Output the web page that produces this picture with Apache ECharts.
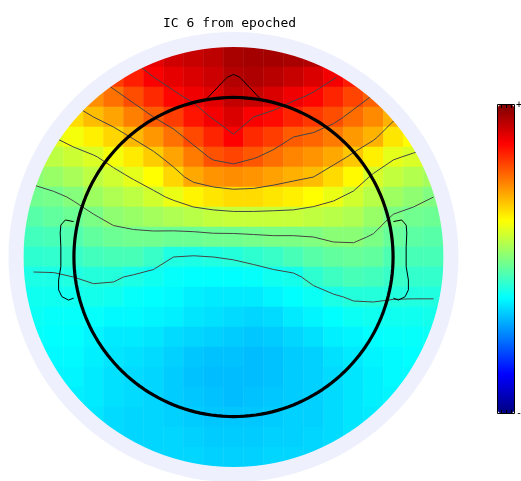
<!DOCTYPE html>
<html><head><meta charset="utf-8">
<script src="https://cdn.jsdelivr.net/npm/echarts@6/dist/echarts.min.js"></script>
<style>html,body{margin:0;padding:0;background:#fff}#c{width:521px;height:481px}</style>
</head><body><div id="c"></div>
<script>
// ---------------- data ----------------
const titleText = 'IC 6 from epoched';
// interpolated scalp map values, rows top -> bottom, 21 x 21 grid (null = outside the map)
const mapRows = [
 [null,null,null,null,null,0.78,0.80,0.84,0.86,0.88,0.92,0.93,0.93,0.92,0.90,0.86,null,null,null,null,null],
 [null,null,null,0.56,0.63,0.69,0.76,0.80,0.82,0.85,0.90,0.91,0.89,0.86,0.82,0.77,0.70,0.62,null,null,null],
 [null,null,0.42,0.47,0.53,0.60,0.67,0.74,0.78,0.81,0.87,0.86,0.82,0.78,0.74,0.68,0.62,0.56,0.46,null,null],
 [null,0.28,0.32,0.38,0.43,0.50,0.57,0.63,0.71,0.77,0.82,0.76,0.73,0.68,0.64,0.60,0.54,0.48,0.40,0.33,null],
 [0.16,0.19,0.23,0.28,0.33,0.39,0.455,0.53,0.61,0.68,0.75,0.67,0.63,0.57,0.55,0.51,0.45,0.40,0.30,0.25,0.23],
 [0.09,0.12,0.15,0.18,0.23,0.29,0.35,0.43,0.51,0.59,0.62,0.58,0.535,0.49,0.46,0.42,0.36,0.28,0.20,0.175,0.15],
 [0.02,0.05,0.08,0.12,0.155,0.20,0.25,0.33,0.42,0.46,0.475,0.46,0.435,0.405,0.38,0.32,0.26,0.17,0.13,0.10,0.07],
 [-0.03,-0.02,0.01,0.06,0.09,0.12,0.16,0.21,0.27,0.30,0.32,0.32,0.30,0.28,0.25,0.21,0.16,0.11,0.06,0.03,0.00],
 [-0.08,-0.06,-0.04,-0.01,0.03,0.05,0.07,0.09,0.11,0.13,0.14,0.14,0.14,0.14,0.125,0.11,0.09,0.05,-0.01,-0.03,-0.04],
 [-0.12,-0.11,-0.09,-0.06,-0.04,-0.03,-0.03,-0.04,-0.04,-0.03,-0.03,-0.02,-0.01,-0.01,0.00,0.02,0.02,-0.01,-0.05,-0.07,-0.08],
 [-0.16,-0.155,-0.14,-0.12,-0.11,-0.11,-0.14,-0.19,-0.20,-0.19,-0.18,-0.16,-0.14,-0.11,-0.08,-0.06,-0.05,-0.06,-0.10,-0.11,-0.11],
 [-0.20,-0.20,-0.19,-0.18,-0.18,-0.20,-0.22,-0.24,-0.25,-0.25,-0.25,-0.24,-0.22,-0.21,-0.16,-0.13,-0.11,-0.12,-0.14,-0.15,-0.15],
 [-0.22,-0.22,-0.22,-0.21,-0.22,-0.24,-0.25,-0.26,-0.28,-0.29,-0.29,-0.29,-0.27,-0.25,-0.23,-0.20,-0.18,-0.18,-0.186,-0.187,-0.188],
 [-0.23,-0.24,-0.24,-0.24,-0.26,-0.26,-0.27,-0.28,-0.30,-0.31,-0.32,-0.33,-0.32,-0.29,-0.27,-0.25,-0.23,-0.22,-0.22,-0.22,-0.21],
 [-0.24,-0.25,-0.25,-0.27,-0.29,-0.29,-0.30,-0.32,-0.33,-0.34,-0.35,-0.36,-0.35,-0.33,-0.31,-0.28,-0.27,-0.25,-0.24,-0.24,-0.23],
 [-0.25,-0.26,-0.26,-0.28,-0.30,-0.31,-0.32,-0.34,-0.36,-0.37,-0.37,-0.38,-0.37,-0.35,-0.34,-0.31,-0.29,-0.27,-0.26,-0.25,-0.24],
 [-0.26,-0.27,-0.27,-0.29,-0.31,-0.32,-0.33,-0.35,-0.37,-0.38,-0.38,-0.38,-0.37,-0.35,-0.34,-0.32,-0.30,-0.28,-0.26,-0.26,-0.25],
 [null,-0.28,-0.28,-0.29,-0.31,-0.32,-0.33,-0.35,-0.36,-0.37,-0.38,-0.37,-0.36,-0.35,-0.34,-0.32,-0.30,-0.28,-0.27,-0.26,null],
 [null,null,-0.28,-0.30,-0.32,-0.33,-0.33,-0.34,-0.35,-0.36,-0.36,-0.36,-0.35,-0.34,-0.34,-0.32,-0.30,-0.29,-0.27,null,null],
 [null,null,null,-0.30,-0.32,-0.33,-0.33,-0.33,-0.34,-0.35,-0.35,-0.35,-0.34,-0.34,-0.33,-0.32,-0.30,-0.29,null,null,null],
 [null,null,null,null,null,-0.33,-0.33,-0.33,-0.33,-0.34,-0.34,-0.34,-0.33,-0.33,-0.33,-0.32,null,null,null,null,null]
];
const contourLevels = [-0.19, 0, 0.19, 0.38, 0.57, 0.76];
const colorLimits = [-1, 1];
const colorbarLabels = ['+', '-'];
// head outline in head units (head radius 0.5), right ear (left ear is mirrored)
const headRadius = 0.5;
const plotRadius = 0.658;
const earX = [0.501, 0.527, 0.541, 0.543, 0.541, 0.541, 0.548, 0.548, 0.538, 0.517, 0.501];
const earY = [0.111, 0.116, 0.100, 0.075, 0.032, -0.030, -0.072, -0.103, -0.124, -0.135, -0.129];
const noseX = [0.083, 0.02, 0, -0.02, -0.083];
const noseY = [0.497, 0.563, 0.572, 0.563, 0.497];

// ---------------- layout / style ----------------
const CX = 233.5, CY = 257, DISK = 210;
const jet = ['#000080','#0000ff','#0080ff','#00ffff','#80ff80','#ffff00','#ff8000','#ff0000','#800000'];
const ringColor = '#eef1fd';

const R = plotRadius;
const nRows = mapRows.length, nCols = mapRows[0].length;
const cw = 2 * R / nCols;
const X = i => -R + (i + 0.5) * cw;
const Y = j => R - (j + 0.5) * cw;

const heat = [];
mapRows.forEach((row, j) => row.forEach((v, i) => {
  if (v == null) return;
  const dx = Math.max(Math.abs(X(i)) - cw / 2, 0), dy = Math.max(Math.abs(Y(j)) - cw / 2, 0);
  if (Math.hypot(dx, dy) < R) heat.push([i, j, v]);
}));

function contourSegs(level) {
  const segs = [];
  for (let j = 0; j < nRows - 1; j++) for (let i = 0; i < nCols - 1; i++) {
    const tl = mapRows[j][i], tr = mapRows[j][i + 1], bl = mapRows[j + 1][i], br = mapRows[j + 1][i + 1];
    if ([tl, tr, bl, br].some(v => v == null)) continue;
    const cross = (a, b) => (a >= level) !== (b >= level);
    const p = {};
    if (cross(tl, tr)) p.t = [X(i) + cw * (level - tl) / (tr - tl), Y(j)];
    if (cross(tr, br)) p.r = [X(i + 1), Y(j) - cw * (level - tr) / (br - tr)];
    if (cross(bl, br)) p.b = [X(i) + cw * (level - bl) / (br - bl), Y(j + 1)];
    if (cross(tl, bl)) p.l = [X(i), Y(j) - cw * (level - tl) / (bl - tl)];
    const k = Object.keys(p);
    if (k.length === 2) segs.push([p[k[0]], p[k[1]]]);
    else if (k.length === 4) {
      const c = (tl + tr + bl + br) / 4;
      if ((c >= level) === (tl >= level)) { segs.push([p.t, p.r]); segs.push([p.b, p.l]); }
      else { segs.push([p.t, p.l]); segs.push([p.r, p.b]); }
    }
  }
  return segs;
}
function chain(segs) {
  const key = q => q[0].toFixed(7) + ',' + q[1].toFixed(7);
  const adj = new Map();
  segs.forEach((s, k) => s.forEach(q => { const kk = key(q); if (!adj.has(kk)) adj.set(kk, []); adj.get(kk).push(k); }));
  const used = new Array(segs.length).fill(false), out = [];
  for (let k = 0; k < segs.length; k++) {
    if (used[k]) continue; used[k] = true;
    const line = [segs[k][0], segs[k][1]];
    for (const fwd of [true, false]) {
      while (true) {
        const end = fwd ? line[line.length - 1] : line[0];
        const m = (adj.get(key(end)) || []).find(n => !used[n]);
        if (m === undefined) break;
        used[m] = true;
        const s = segs[m], other = key(s[0]) === key(end) ? s[1] : s[0];
        if (fwd) line.push(other); else line.unshift(other);
      }
    }
    out.push(line);
  }
  return out;
}
const contourLines = [];
contourLevels.forEach(l => chain(contourSegs(l)).forEach(pl => contourLines.push({ coords: pl })));

const headPts = [];
for (let a = 0; a <= 360; a += 2) headPts.push([headRadius * Math.cos(a * Math.PI / 180), headRadius * Math.sin(a * Math.PI / 180)]);
const earR = earX.map((x, k) => [x, earY[k]]);
const earL = earX.map((x, k) => [-x, earY[k]]);
const nose = noseX.map((x, k) => [x, noseY[k]]);

const outline = (data, w) => ({
  type: 'line', xAxisIndex: 1, yAxisIndex: 1, data, showSymbol: false, symbol: 'none',
  lineStyle: { color: '#000', width: w }, z: 6, silent: true, animation: false
});

const chart = echarts.init(document.getElementById('c'), null, { renderer: 'canvas' });
chart.setOption({
  animation: false,
  backgroundColor: '#fff',
  title: {
    text: titleText, left: 163, top: 17, padding: 0, z: 10,
    textStyle: { fontFamily: 'DejaVu Sans Mono', fontSize: 13, fontWeight: 'normal', color: '#000' }
  },
  grid: { left: CX - DISK, top: CY - DISK, width: 2 * DISK, height: 2 * DISK, containLabel: false },
  xAxis: [
    { type: 'category', data: mapRows[0].map((_, i) => i), show: false },
    { type: 'value', min: -R, max: R, show: false }
  ],
  yAxis: [
    { type: 'category', data: mapRows.map((_, j) => j), inverse: true, show: false },
    { type: 'value', min: -R, max: R, show: false }
  ],
  visualMap: {
    type: 'continuous', min: colorLimits[0], max: colorLimits[1], seriesIndex: 0, dimension: 2,
    calculable: false, hoverLink: false, orient: 'vertical', left: 498, top: 105,
    itemWidth: 16, itemHeight: 308, padding: 0, text: null, inRange: { color: jet }
  },
  graphic: [
    { type: 'ring', shape: { cx: CX, cy: CY, r: 248, r0: 223 }, style: { fill: '#fff' }, z: 4, silent: true },
    { type: 'ring', shape: { cx: CX, cy: CY, r: 225, r0: DISK }, style: { fill: ringColor }, z: 5, silent: true },
    { type: 'rect', shape: { x: 497.5, y: 104.5, width: 17, height: 309 }, style: { fill: null, stroke: '#000', lineWidth: 1 }, z: 20 },
    { type: 'line', shape: { x1: 501.5, y1: 105, x2: 501.5, y2: 108 }, style: { stroke: '#000', lineWidth: 1 }, z: 20 },
    { type: 'line', shape: { x1: 506.5, y1: 105, x2: 506.5, y2: 108 }, style: { stroke: '#000', lineWidth: 1 }, z: 20 },
    { type: 'line', shape: { x1: 511.5, y1: 105, x2: 511.5, y2: 108 }, style: { stroke: '#000', lineWidth: 1 }, z: 20 },
    { type: 'line', shape: { x1: 501.5, y1: 410, x2: 501.5, y2: 413 }, style: { stroke: '#000', lineWidth: 1 }, z: 20 },
    { type: 'line', shape: { x1: 506.5, y1: 410, x2: 506.5, y2: 413 }, style: { stroke: '#000', lineWidth: 1 }, z: 20 },
    { type: 'line', shape: { x1: 511.5, y1: 410, x2: 511.5, y2: 413 }, style: { stroke: '#000', lineWidth: 1 }, z: 20 },
    { type: 'text', x: 516, y: 105, style: { text: colorbarLabels[0], fontFamily: 'DejaVu Sans Mono', fontSize: 10, fill: '#000', verticalAlign: 'middle' }, z: 20 },
    { type: 'text', x: 516, y: 413, style: { text: colorbarLabels[1], fontFamily: 'DejaVu Sans Mono', fontSize: 10, fill: '#000', verticalAlign: 'middle' }, z: 20 }
  ],
  series: [
    { type: 'heatmap', xAxisIndex: 0, yAxisIndex: 0, data: heat, z: 2, silent: true, emphasis: { disabled: true } },
    { type: 'lines', coordinateSystem: 'cartesian2d', xAxisIndex: 1, yAxisIndex: 1, polyline: true,
      data: contourLines, lineStyle: { color: '#444', width: 1, opacity: 1 }, z: 3, silent: true, animation: false },
    outline(headPts, 3.2),
    outline(nose, 1),
    outline(earL, 1),
    outline(earR, 1)
  ]
});
</script>
</body></html>
